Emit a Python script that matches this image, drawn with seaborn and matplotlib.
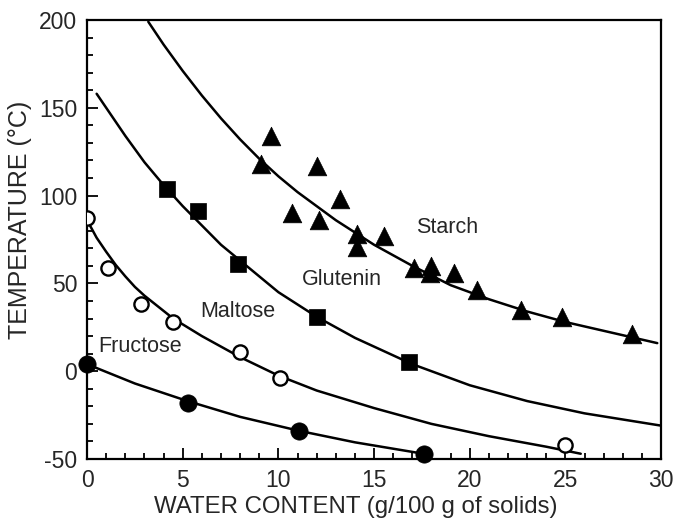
import numpy as np
import pandas as pd
import seaborn as sns
import matplotlib.pyplot as plt
from matplotlib.ticker import MultipleLocator

# Measured points (water content g/100 g solids, temperature C)
starch_x = [9.6, 9.1, 12.0, 13.2, 10.7, 12.1, 14.1, 14.1, 15.5, 17.1, 18.0, 17.9, 19.2, 20.4, 22.7, 24.8, 28.5]
starch_y = [134, 118, 117, 98, 90, 86, 78, 71, 77, 59, 60, 56, 56, 46, 35, 31, 21]

glutenin_x = [4.2, 5.8, 7.9, 12.0, 16.8]
glutenin_y = [104, 91, 61, 31, 5]

maltose_x = [0.0, 1.1, 2.8, 4.5, 8.0, 10.1, 25.0]
maltose_y = [87, 59, 38, 28, 11, -4, -42]

fructose_x = [0.0, 5.25, 11.1, 17.6]
fructose_y = [4, -18, -34, -47]

# Fitted curves
starch_cx = [3.2, 4, 5, 6, 7, 8, 9, 10, 11, 12, 13, 15, 17, 19, 21, 23, 25, 27, 29.8]
starch_cy = [199, 186, 171, 157, 144, 132, 121, 111, 102, 94, 86, 72, 60, 49, 41, 34, 28, 23, 16]

glutenin_cx = [0.5, 1, 2, 3, 4, 5, 6, 7, 8, 10, 12, 14, 17, 20, 23, 26, 30]
glutenin_cy = [158, 150, 134, 119, 106, 94, 83, 72, 63, 45, 31, 19, 4, -8, -17, -24, -31]

maltose_cx = [0, 0.5, 1, 1.5, 2, 2.5, 3, 4.5, 6, 8, 10, 12, 15, 18, 21, 24, 25.8]
maltose_cy = [86, 76, 68, 60.5, 54, 48, 43, 30, 20, 8, -2.5, -11, -21, -30, -37, -43, -47]

fructose_cx = [0, 2.5, 5.25, 8, 11.1, 14, 17.3]
fructose_cy = [4, -7, -17, -26, -34, -40.5, -46.5]

labels = ['Starch', 'Glutenin', 'Maltose', 'Fructose']
label_x = [17.2, 11.2, 5.9, 0.6]
label_y = [82, 52, 34, 14]


def draw():
    sns.set_style('ticks')
    plt.rcParams['font.family'] = ['Liberation Sans', 'DejaVu Sans']
    plt.rcParams['axes.unicode_minus'] = False

    fig = plt.figure(figsize=(6.75, 5.2), dpi=100)
    ax = fig.add_axes([0.129, 0.1173, 0.8504, 0.8442])

    # fitted curves
    for cx, cy in [(starch_cx, starch_cy), (glutenin_cx, glutenin_cy),
                   (maltose_cx, maltose_cy), (fructose_cx, fructose_cy)]:
        sns.lineplot(x=cx, y=cy, ax=ax, color='black', lw=1.8, sort=False)

    # data points
    sns.scatterplot(x=starch_x, y=starch_y, ax=ax, marker='^', s=180,
                    color='black', edgecolor='black', linewidth=0.5, zorder=3)
    sns.scatterplot(x=glutenin_x, y=glutenin_y, ax=ax, marker='s', s=145,
                    color='black', edgecolor='black', linewidth=0.5, zorder=3)
    sns.scatterplot(x=maltose_x, y=maltose_y, ax=ax, marker='o', s=105,
                    facecolor='white', edgecolor='black', linewidth=1.7, zorder=3)
    sns.scatterplot(x=fructose_x, y=fructose_y, ax=ax, marker='o', s=155,
                    color='black', edgecolor='black', linewidth=0.5, zorder=3,
                    clip_on=False)

    for t, tx, ty in zip(labels, label_x, label_y):
        ax.text(tx, ty, t, fontsize=15.5, va='center', ha='left')

    ax.set_xlim(0, 30)
    ax.set_ylim(-50, 200)
    ax.xaxis.set_major_locator(MultipleLocator(5))
    ax.xaxis.set_minor_locator(MultipleLocator(1))
    ax.yaxis.set_major_locator(MultipleLocator(50))
    ax.yaxis.set_minor_locator(MultipleLocator(10))
    ax.tick_params(which='both', direction='in', top=False, right=False,
                   color='black', width=1.3, labelsize=16.5, pad=7)
    ax.tick_params(which='major', length=8)
    ax.tick_params(which='minor', length=4.5)

    for sp in ax.spines.values():
        sp.set_visible(True)
        sp.set_color('black')
        sp.set_linewidth(1.6)

    ax.set_xlabel('WATER CONTENT (g/100 g of solids)', fontsize=17.3)
    ax.xaxis.set_label_coords(0.468, -0.085)
    ax.set_ylabel('TEMPERATURE (°C)', fontsize=18)
    ax.yaxis.set_label_coords(-0.096, 0.544)

    fig.savefig('out.png', dpi=100)


if __name__ == '__main__':
    draw()
